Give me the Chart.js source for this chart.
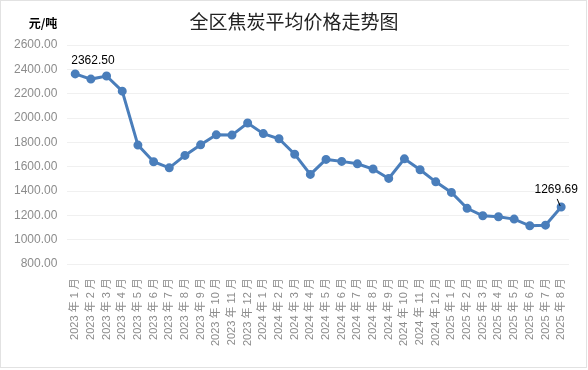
<!DOCTYPE html>
<html>
<head>
<meta charset="utf-8">
<script src="https://cdn.jsdelivr.net/npm/chart.js@4"></script>
<style>
    html, body { margin: 0; padding: 0; background: #fff; }
    #wrap { position: relative; width: 588px; height: 370px; }
</style>
</head>
<body>
<div id="wrap"><canvas id="priceChart" width="588" height="370"></canvas></div>
<script>
// months shown on the x axis
const months = [
    '2023 年 1 月', '2023 年 2 月', '2023 年 3 月', '2023 年 4 月', '2023 年 5 月', '2023 年 6 月',
    '2023 年 7 月', '2023 年 8 月', '2023 年 9 月', '2023 年 10 月', '2023 年 11 月', '2023 年 12 月',
    '2024 年 1 月', '2024 年 2 月', '2024 年 3 月', '2024 年 4 月', '2024 年 5 月', '2024 年 6 月',
    '2024 年 7 月', '2024 年 8 月', '2024 年 9 月', '2024 年 10 月', '2024 年 11 月', '2024 年 12 月',
    '2025 年 1 月', '2025 年 2 月', '2025 年 3 月', '2025 年 4 月', '2025 年 5 月', '2025 年 6 月',
    '2025 年 7 月', '2025 年 8 月'
];

// average coke price, yuan per tonne
const prices = [
    2362.50, 2320, 2345, 2221, 1778, 1641, 1591, 1693, 1780, 1862, 1860, 1959,
    1872, 1830, 1703, 1537, 1660, 1644, 1624, 1581, 1504, 1665, 1575, 1476,
    1389, 1258, 1197, 1189, 1170, 1115, 1120, 1269.69
];

const yMin = 800;
const yMax = 2600;
const yStep = 200;

const titleText = '全区焦炭平均价格走势图';
const unitText = '元/吨';

// points that carry a value label
const labelledPoints = [0, prices.length - 1];

const decorPlugin = {
    id: 'decor',
    afterDraw(chart) {
        const ctx = chart.ctx;
        const meta = chart.getDatasetMeta(0);
        ctx.save();

        // outer frame
        ctx.strokeStyle = '#e2e2e2';
        ctx.lineWidth = 1;
        ctx.strokeRect(0.5, 0.5, 586, 367);

        // title
        ctx.fillStyle = '#222';
        ctx.font = '19px "Noto Sans CJK SC", sans-serif';
        ctx.textAlign = 'center';
        ctx.textBaseline = 'middle';
        ctx.fillText(titleText, 294, 22);

        // unit
        ctx.font = 'bold 12px "Noto Sans CJK SC", sans-serif';
        ctx.fillStyle = '#000';
        ctx.fillText(unitText, 43, 23);

        // value labels
        ctx.font = '12px "Liberation Sans", Arial, sans-serif';
        labelledPoints.forEach(function (i) {
            const pt = meta.data[i];
            const text = prices[i].toFixed(2);
            if (i === 0) {
                ctx.textAlign = 'left';
                ctx.fillText(text, pt.x - 4, pt.y - 13);
            } else {
                ctx.textAlign = 'center';
                ctx.fillText(text, pt.x - 5, pt.y - 17);
                ctx.beginPath();
                ctx.moveTo(pt.x - 4, pt.y - 8);
                ctx.lineTo(pt.x - 1, pt.y - 1);
                ctx.strokeStyle = '#000';
                ctx.stroke();
            }
        });
        ctx.restore();
    }
};

const ctx = document.getElementById('priceChart').getContext('2d');
const priceChart = new Chart(ctx, {
    type: 'line',
    data: {
        labels: months,
        datasets: [{
            data: prices,
            borderColor: '#4a7ebb',
            backgroundColor: '#4a7ebb',
            borderWidth: 3,
            pointRadius: 3,
            pointHoverRadius: 3,
            lineTension: 0,
            fill: false,
        }]
    },
    options: {
        responsive: false,
        animation: false,
        layout: {
            padding: { top: 45, left: 4, right: 19, bottom: 18 }
        },
        scales: {
            x: {
                offset: true,
                grid: { display: false },
                border: { display: false },
                ticks: {
                    autoSkip: false,
                    minRotation: 90,
                    maxRotation: 90,
                    padding: 6,
                    color: '#8c8c8c',
                    font: { size: 11, family: '"Liberation Sans", Arial, "Noto Sans CJK SC", sans-serif' },
                },
            },
            y: {
                min: yMin,
                max: yMax,
                grid: {
                    color: '#f0f0f0',
                    drawTicks: false,
                },
                border: { display: false },
                ticks: {
                    stepSize: yStep,
                    padding: 10,
                    color: '#8c8c8c',
                    font: { size: 12, family: '"Liberation Sans", Arial, sans-serif' },
                    callback: function (v) { return v.toFixed(2); },
                },
            },
        },
        plugins: {
            legend: { display: false },
            tooltip: { enabled: false },
        },
    },
    plugins: [decorPlugin]
});
</script>
</body>
</html>
